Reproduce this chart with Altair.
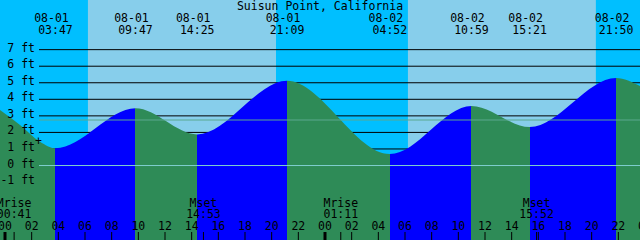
import altair as alt
import pandas as pd

# ---------------- data ----------------
TITLE = "Suisun Point, California"
X0, X1 = -0.375, 47.625          # visible time span, hours from 08-01 00:00
Y0, Y1 = -4.5, 10.0              # visible level span, ft

# day / night shading (hours)
sun_edges = [-0.375, 6.22, 20.33, 30.22, 44.32, 47.625]
sun_kind = ["night", "day", "night", "day", "night"]

# tide extremes
ext_dates = ["08-01", "08-01", "08-01", "08-01", "08-02", "08-02", "08-02", "08-02"]
ext_times = ["03:47", "09:47", "14:25", "21:09", "04:52", "10:59", "15:21", "21:50"]
ext_levels = [1.04, 3.46, 1.88, 5.12, 0.69, 3.60, 2.33, 5.29]

# curve samples near the edges of the view
left_hours = [-0.375, 1.125, 2.625]
left_levels = [3.35, 2.45, 1.44]
right_hours = [47.625]
right_levels = [4.80]

# moon events
moon_labels = ["Mrise", "Mset", "Mrise", "Mset"]
moon_dates = ["08-01", "08-01", "08-02", "08-02"]
moon_times = ["00:41", "14:53", "01:11", "15:52"]

level_ticks = [-1, 0, 1, 2, 3, 4, 5, 6, 7]
msl_level = 2.75
hour_ticks = list(range(0, 49, 2))
day_starts = [0, 24]
mark_hour, mark_level = 2.51, 1.42

# ---------------- colours ----------------
DAY, NIGHT = "#87CEEB", "#00BFFF"
RISE, FALL = "#0000FF", "#2E8B57"
DATUM, MSL = "#7fcfcf", "#5aa88f"
FONT = "DejaVu Sans Mono"
FS = 11.5


def to_hour(d, t):
    day = int(d[-2:]) - 1
    hh, mm = t.split(":")
    return day * 24 + int(hh) + int(mm) / 60.0


ext_hours = [to_hour(d, t) for d, t in zip(ext_dates, ext_times)]
moon_hours = [to_hour(d, t) for d, t in zip(moon_dates, moon_times)]

xs = alt.Scale(domain=[X0, X1], nice=False, zero=False)
ys = alt.Scale(domain=[Y0, Y1], nice=False, zero=False)


def X(f):
    return alt.X(f, type="quantitative", scale=xs, axis=None)


def Y(f):
    return alt.Y(f, type="quantitative", scale=ys, axis=None)


# background
sun_df = pd.DataFrame({"a": sun_edges[:-1], "b": sun_edges[1:], "kind": sun_kind})
bg = alt.Chart(sun_df).mark_rect().encode(
    x=X("a"), x2="b", y=alt.value(0), y2=alt.value(240),
    color=alt.Color("kind:N", scale=alt.Scale(domain=["day", "night"], range=[DAY, NIGHT]), legend=None),
)

# black depth lines
lv_df = pd.DataFrame({"lv": level_ticks, "lab": [f"{v} ft" for v in level_ticks]})
grid = alt.Chart(lv_df).mark_rule(color="black", strokeWidth=1).encode(
    y=Y("lv"), x=alt.value(39), x2=alt.value(640)
)

# water
curve_h = left_hours + ext_hours + right_hours
curve_v = left_levels + ext_levels + right_levels
water_df = pd.DataFrame({"h": curve_h, "v": curve_v, "base": [Y0] * len(curve_h)})
bounds = [X0] + ext_hours + [X1]
stops = []
for i in range(len(bounds) - 1):
    c = FALL if i % 2 == 0 else RISE
    a = (bounds[i] - X0) / (X1 - X0)
    b = (bounds[i + 1] - X0) / (X1 - X0)
    stops += [alt.GradientStop(color=c, offset=a), alt.GradientStop(color=c, offset=b)]
grad = alt.Gradient(gradient="linear", stops=stops, x1=0, x2=1, y1=0, y2=0)
water = alt.Chart(water_df).mark_area(interpolate="monotone", fill=grad, strokeWidth=0).encode(
    x=X("h"), y=Y("v"), y2="base"
)

# datum and MSL lines
ref_df = pd.DataFrame({"lv": [0, msl_level], "kind": ["datum", "msl"]})
refs = alt.Chart(ref_df).mark_rule(strokeWidth=1).encode(
    y=Y("lv"), x=alt.value(39), x2=alt.value(640),
    color=alt.Color("kind:N", scale=alt.Scale(domain=["datum", "msl"], range=[DATUM, MSL]), legend=None),
)

# level labels
ylab = alt.Chart(lv_df).mark_text(font=FONT, fontSize=FS, align="right", baseline="middle", dy=-1, color="black").encode(
    y=Y("lv"), x=alt.value(35), text="lab:N"
)

plus = alt.Chart(pd.DataFrame({"h": [mark_hour], "v": [mark_level], "t": ["+"]})).mark_text(
    font=FONT, fontSize=FS, align="center", baseline="middle", color="black"
).encode(x=X("h"), y=Y("v"), text="t:N")

# extreme labels
ext_df = pd.DataFrame({"h": ext_hours, "d": ext_dates, "t": ext_times})
ext_d = alt.Chart(ext_df).mark_text(font=FONT, fontSize=FS, align="center", baseline="alphabetic", dx=-4, color="black").encode(
    x=X("h"), y=alt.value(21.7), text="d:N"
)
ext_t = alt.Chart(ext_df).mark_text(font=FONT, fontSize=FS, align="center", baseline="alphabetic", color="black").encode(
    x=X("h"), y=alt.value(34), text="t:N"
)

# moon labels
moon_df = pd.DataFrame({"h": moon_hours, "l": moon_labels, "t": moon_times})
moon_l = alt.Chart(moon_df).mark_text(font=FONT, fontSize=FS, align="center", baseline="alphabetic", color="black").encode(
    x=X("h"), y=alt.value(206.7), text="l:N"
)
moon_t = alt.Chart(moon_df).mark_text(font=FONT, fontSize=FS, align="center", baseline="alphabetic", color="black").encode(
    x=X("h"), y=alt.value(217.8), text="t:N"
)

# hour ticks and labels
hr_df = pd.DataFrame({"h": hour_ticks, "lab": [f"{h % 24:02d}" for h in hour_ticks]})
hr_lab = alt.Chart(hr_df).mark_text(font=FONT, fontSize=FS, align="center", baseline="alphabetic", color="black").encode(
    x=X("h"), y=alt.value(229.5), text="lab:N"
)
hr_tick = alt.Chart(hr_df).mark_rule(color="black", strokeWidth=1).encode(
    x=X("h"), y=alt.value(232), y2=alt.value(240)
)
day_tick = alt.Chart(pd.DataFrame({"h": day_starts})).mark_rule(color="black", strokeWidth=3).encode(
    x=X("h"), y=alt.value(232), y2=alt.value(240)
)
moon_tick = alt.Chart(moon_df).mark_rule(color="black", strokeWidth=1).encode(
    x=X("h"), y=alt.value(232), y2=alt.value(240)
)

title = alt.Chart(pd.DataFrame({"t": [TITLE]})).mark_text(
    font=FONT, fontSize=FS, align="center", baseline="alphabetic", color="black"
).encode(x=alt.value(320), y=alt.value(10), text="t:N")

chart = alt.layer(
    bg, grid, water, refs, ylab, plus, ext_d, ext_t, moon_l, moon_t, hr_lab, hr_tick, day_tick, moon_tick, title
).resolve_scale(color="independent").properties(
    width=640, height=240, padding=0, autosize=alt.AutoSizeParams(type="none"), background=NIGHT
).configure_view(stroke=None)

chart.save("out.html", embed_options={"renderer": "svg", "actions": False})
